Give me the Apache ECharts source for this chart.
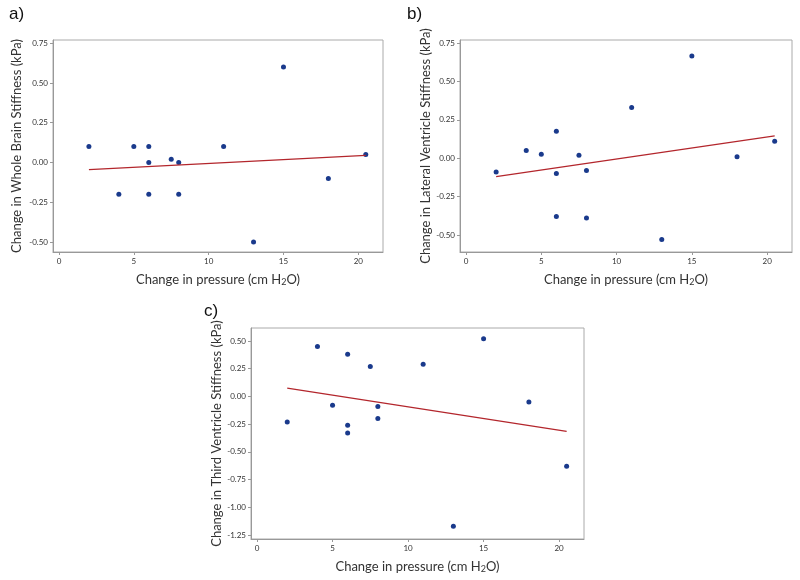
<!DOCTYPE html>
<html>
<head>
<meta charset="utf-8">
<script src="https://cdn.jsdelivr.net/npm/echarts@6/dist/echarts.min.js"></script>
<style>
html, body { margin: 0; padding: 0; background: #fff; }
#chart { width: 800px; height: 580px; }
</style>
</head>
<body>
<div id="chart"></div>
<script>
// change in pressure (cm H2O), same for all three panels
var pressure = [2, 4, 5, 6, 6, 6, 7.5, 8, 8, 11, 13, 15, 18, 20.5];

// a) whole brain
var wholeBrain = [0.10, -0.20, 0.10, 0.10, 0.00, -0.20, 0.02, 0.00, -0.20, 0.10, -0.50, 0.60, -0.10, 0.05];
// b) lateral ventricle
var lateralVentricle = [-0.09, 0.05, 0.025, 0.175, -0.10, -0.38, 0.02, -0.08, -0.39, 0.33, -0.53, 0.665, 0.01, 0.11];
// c) third ventricle
var thirdVentricle = [-0.23, 0.45, -0.08, 0.38, -0.26, -0.33, 0.27, -0.09, -0.20, 0.29, -1.17, 0.52, -0.05, -0.63];

// fit line end points
var fitX = [2, 20.5];
var fitWhole = [-0.045, 0.045];
var fitLateral = [-0.12, 0.145];
var fitThird = [0.075, -0.315];

// tick labels
var xTicks = [0, 5, 10, 15, 20];
var yTicksAB = [-0.5, -0.25, 0, 0.25, 0.5, 0.75];
var yTicksC = [-1.25, -1, -0.75, -0.5, -0.25, 0, 0.25, 0.5];

var titles = [
    'Change in Whole Brain Stiffness (kPa)',
    'Change in Lateral Ventricle Stiffness (kPa)',
    'Change in Third Ventricle Stiffness (kPa)'
];

var myChart = echarts.init(document.getElementById('chart'));
var font = 'Lato, "Open Sans", sans-serif';
var blue = '#1a3a8c';
var red = '#b3262c';

function pairs(xs, ys) {
    return xs.map(function (x, i) { return [x, ys[i]]; });
}

function xAxis(idx) {
    return {
        gridIndex: idx,
        type: 'value',
        min: -0.4,
        max: 21.65,
        splitLine: { show: false },
        axisLine: { show: true, onZero: false, lineStyle: { color: '#999' } },
        axisTick: { show: true, length: 3, customValues: xTicks, lineStyle: { color: '#999' } },
        axisLabel: { customValues: xTicks, fontSize: 8, color: '#333', fontFamily: font, margin: 5 },
        name: '{a|Change in pressure (cm H}{s|2}{a|O)}',
        nameLocation: 'middle',
        nameGap: 20,
        nameTextStyle: {
            rich: {
                a: { fontSize: 13, color: '#333', fontFamily: font },
                s: { fontSize: 9, color: '#333', fontFamily: font, verticalAlign: 'bottom', padding: [6, 0, 0, 0] }
            }
        }
    };
}

function yAxis(idx, min, max, ticks, gap) {
    return {
        gridIndex: idx,
        type: 'value',
        min: min,
        max: max,
        splitLine: { show: false },
        axisLine: { show: true, onZero: false, lineStyle: { color: '#999' } },
        axisTick: { show: true, length: 3, customValues: ticks, lineStyle: { color: '#999' } },
        axisLabel: {
            customValues: ticks, fontSize: 8, color: '#333', fontFamily: font, margin: 5,
            formatter: function (v) { return v.toFixed(2); }
        },
        name: titles[idx],
        nameLocation: 'middle',
        nameGap: gap,
        nameTextStyle: { fontSize: 13, color: '#333', fontFamily: font }
    };
}

function scatter(idx, ys) {
    return {
        type: 'scatter', xAxisIndex: idx, yAxisIndex: idx,
        symbol: 'circle', symbolSize: 5,
        itemStyle: { color: blue, opacity: 1 },
        data: pairs(pressure, ys)
    };
}

function fit(idx, ys) {
    return {
        type: 'line', xAxisIndex: idx, yAxisIndex: idx,
        symbol: 'none',
        lineStyle: { color: red, width: 1.2 },
        data: pairs(fitX, ys)
    };
}

var gridStyle = { show: true, borderColor: '#aaa', borderWidth: 1, backgroundColor: '#fff' };

option = {
    animation: false,
    grid: [
        Object.assign({ left: 53, top: 40, width: 330, height: 212 }, gridStyle),
        Object.assign({ left: 460, top: 40, width: 332, height: 212 }, gridStyle),
        Object.assign({ left: 251, top: 328, width: 333, height: 211 }, gridStyle)
    ],
    xAxis: [xAxis(0), xAxis(1), xAxis(2)],
    yAxis: [
        yAxis(0, -0.5625, 0.77, yTicksAB, 30),
        yAxis(1, -0.611, 0.77, yTicksAB, 27),
        yAxis(2, -1.286, 0.617, yTicksC, 28)
    ],
    graphic: [
        { type: 'text', left: 9, top: 6, style: { text: 'a)', fontSize: 17, fill: '#111', fontFamily: 'Liberation Sans, sans-serif' } },
        { type: 'text', left: 407, top: 6, style: { text: 'b)', fontSize: 17, fill: '#111', fontFamily: 'Liberation Sans, sans-serif' } },
        { type: 'text', left: 204, top: 303, style: { text: 'c)', fontSize: 17, fill: '#111', fontFamily: 'Liberation Sans, sans-serif' } }
    ],
    series: [
        fit(0, fitWhole), scatter(0, wholeBrain),
        fit(1, fitLateral), scatter(1, lateralVentricle),
        fit(2, fitThird), scatter(2, thirdVentricle)
    ]
};
myChart.setOption(option);
</script>
</body>
</html>
